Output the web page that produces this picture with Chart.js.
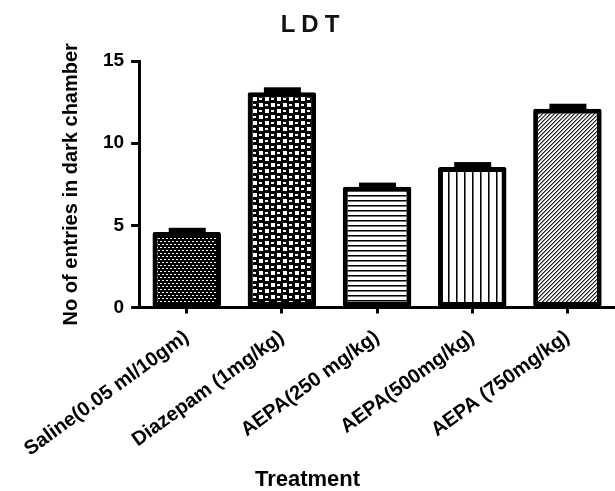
<!DOCTYPE html>
<html>
<head>
<meta charset="utf-8">
<script src="https://cdn.jsdelivr.net/npm/chart.js@4/dist/chart.umd.min.js"></script>
<style>
  html, body { margin: 0; padding: 0; background: #fff; }
  #wrap { width: 615px; height: 491px; }
</style>
</head>
<body>
<div id="wrap"><canvas id="ldtChart" width="615" height="491"></canvas></div>
<script>
// Data
const treatments = ["Saline(0.05 ml/10gm)", "Diazepam (1mg/kg)", "AEPA(250 mg/kg)", "AEPA(500mg/kg)", "AEPA (750mg/kg)"];
const entries = [4.6, 13.1, 7.35, 8.55, 12.1];
const sem = [0.25, 0.3, 0.25, 0.3, 0.3];
const yTicks = [0, 5, 10, 15];

const FONT = '"Liberation Sans", Arial, sans-serif';
const canvas = document.getElementById("ldtChart");
const mainCtx = canvas.getContext("2d");

// small tiles for the bar fills
function makePattern(w, h, draw) {
  const c = document.createElement("canvas");
  c.width = w;
  c.height = h;
  const g = c.getContext("2d");
  draw(g);
  return mainCtx.createPattern(c, "repeat");
}

const dots = makePattern(4, 6, g => {
  g.fillStyle = "#000"; g.fillRect(0, 0, 4, 6);
  g.fillStyle = "#fff";
  g.fillRect(0, 1, 2, 1);
  g.fillRect(2, 4, 2, 1);
});
const checks = makePattern(12, 12, g => {
  g.fillStyle = "#000"; g.fillRect(0, 0, 12, 12);
  g.fillStyle = "#fff";
  g.fillRect(1, 1, 4, 4);
  g.fillRect(7, 7, 4, 4);
  g.fillRect(7, 2, 3, 2);
  g.fillRect(1, 8, 3, 2);
});
const hLines = makePattern(1, 5, g => {
  g.fillStyle = "#fff"; g.fillRect(0, 0, 1, 5);
  g.fillStyle = "#000"; g.fillRect(0, 0, 1, 1);
  g.fillStyle = "#777"; g.fillRect(0, 1, 1, 1);
});
const vLines = makePattern(8, 1, g => {
  g.fillStyle = "#fff"; g.fillRect(0, 0, 8, 1);
  g.fillStyle = "#000"; g.fillRect(0, 0, 1, 1);
  g.fillStyle = "#777"; g.fillRect(1, 0, 1, 1);
});
const hatch = makePattern(4, 4, g => {
  g.fillStyle = "#f2f2f2"; g.fillRect(0, 0, 4, 4);
  for (let i = 0; i < 4; i++) {
    g.fillStyle = "#222"; g.fillRect(3 - i, i, 1, 1);
    g.fillStyle = "#888"; g.fillRect((4 - i) % 4, i, 1, 1);
  }
});
const fills = [dots, checks, hLines, vLines, hatch];

// SEM caps on top of each bar
const semCaps = {
  id: "semCaps",
  afterDatasetsDraw(chart) {
    const ctx = chart.ctx;
    const y = chart.scales.y;
    const meta = chart.getDatasetMeta(0);
    ctx.save();
    ctx.fillStyle = "#000";
    meta.data.forEach((bar, i) => {
      const top = y.getPixelForValue(entries[i] + sem[i]);
      ctx.fillRect(bar.x - 18, top, 37, bar.y - top + 1);
    });
    ctx.restore();
  }
};

// spaced-out title
const titleText = {
  id: "titleText",
  afterDraw(chart) {
    const ctx = chart.ctx;
    ctx.save();
    ctx.font = "bold 24px " + FONT;
    ctx.letterSpacing = "6px";
    ctx.fillStyle = "#111";
    ctx.textAlign = "center";
    ctx.textBaseline = "alphabetic";
    ctx.fillText("LDT", 313, 32);
    ctx.restore();
  }
};

const axisStyle = {
  grid: { display: true, offset: false, drawOnChartArea: false, drawTicks: true, tickLength: 8, tickWidth: 3, tickColor: "#000" },
  border: { display: true, color: "#000", width: 3 }
};

new Chart(canvas, {
  type: "bar",
  data: {
    labels: treatments,
    datasets: [{
      data: entries,
      backgroundColor: fills,
      borderColor: "#000",
      borderWidth: 5,
      borderRadius: 2,
      borderSkipped: false,
      barPercentage: 0.72,
      categoryPercentage: 1
    }]
  },
  options: {
    responsive: false,
    animation: false,
    devicePixelRatio: 1,
    layout: { padding: { top: 61, left: 0, right: 0, bottom: 0 } },
    plugins: {
      legend: { display: false },
      tooltip: { enabled: false },
      title: { display: false },
      subtitle: {
        display: true,
        text: "Treatment",
        position: "bottom",
        color: "#000",
        font: { family: FONT, size: 22, weight: "bold", lineHeight: 1 },
        padding: { top: 8, bottom: 0 }
      }
    },
    scales: {
      x: {
        ...axisStyle,
        grid: { ...axisStyle.grid, tickLength: 6 },
        afterFit: scale => { scale.height = 153.5; },
        ticks: {
          color: "#000",
          font: { family: FONT, size: 20, weight: "bold" },
          minRotation: 36,
          maxRotation: 36,
          autoSkip: false,
          padding: 12
        }
      },
      y: {
        ...axisStyle,
        min: 0,
        max: 15,
        afterBuildTicks: axis => { axis.ticks = yTicks.map(v => ({ value: v })); },
        ticks: {
          color: "#000",
          font: { family: FONT, size: 19, weight: "bold" },
          padding: 7
        },
        title: {
          display: true,
          text: "No of entries in dark chamber",
          color: "#000",
          font: { family: FONT, size: 20, weight: "bold" },
          padding: { top: 59, bottom: 13 }
        }
      }
    }
  },
  plugins: [semCaps, titleText]
});
</script>
</body>
</html>
